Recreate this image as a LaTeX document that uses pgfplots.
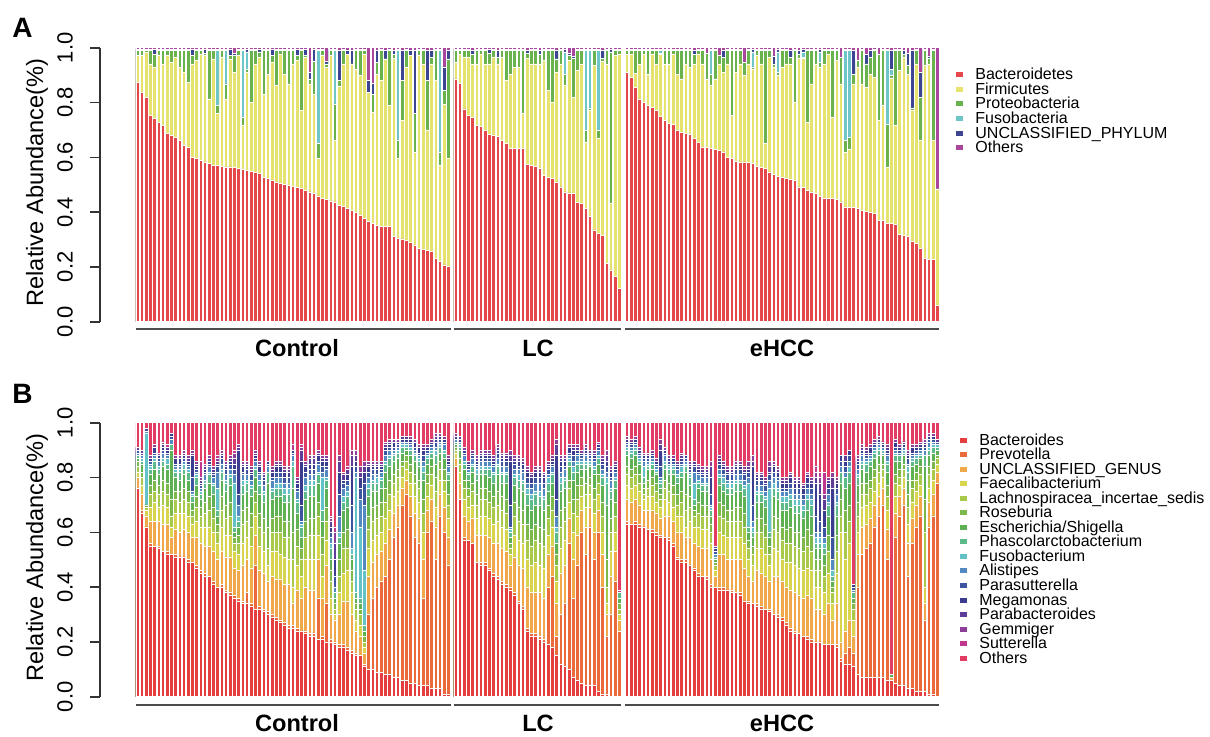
\documentclass[border=0pt]{standalone}
\usepackage{pgfplots}
\usepackage{pgfplotstable}
\usepackage{fontspec}
\setmainfont{Liberation Sans}
\pgfplotsset{compat=1.18}

% phylum palette
\definecolor{phBac}{RGB}{229,72,75}
\definecolor{phFir}{RGB}{229,226,110}
\definecolor{phPro}{RGB}{106,178,77}
\definecolor{phFus}{RGB}{110,198,200}
\definecolor{phUnc}{RGB}{61,69,146}
\definecolor{phOth}{RGB}{168,71,156}
% genus palette
\definecolor{gBac}{RGB}{229,62,62}
\definecolor{gPre}{RGB}{234,106,60}
\definecolor{gUnc}{RGB}{240,168,74}
\definecolor{gFae}{RGB}{216,212,78}
\definecolor{gLac}{RGB}{169,201,74}
\definecolor{gRos}{RGB}{125,185,74}
\definecolor{gEsc}{RGB}{93,177,82}
\definecolor{gPha}{RGB}{93,187,138}
\definecolor{gFus}{RGB}{98,194,200}
\definecolor{gAli}{RGB}{81,137,192}
\definecolor{gPsu}{RGB}{61,84,160}
\definecolor{gMeg}{RGB}{59,60,144}
\definecolor{gPba}{RGB}{94,61,152}
\definecolor{gGem}{RGB}{140,62,152}
\definecolor{gSut}{RGB}{192,56,142}
\definecolor{gOth}{RGB}{227,60,100}

% cumulative tops per sample (phylum level): Bacteroidetes, +Firmicutes, +Proteobacteria, +Fusobacteria, +UNCLASSIFIED, +Others
\pgfplotstableread{
x r Y G C B O
0 .874 .971 .990 .990 .995 1
1 .837 .971 .990 .990 .995 1
2 .819 .985 .990 .990 .995 1
3 .753 .941 .989 .989 .995 1
4 .741 .929 .977 .977 .995 1
5 .728 .971 .990 .990 .995 1
6 .716 .941 .990 .990 .995 1
7 .686 .971 .990 .990 .995 1
8 .680 .947 .990 .990 .995 1
9 .674 .965 .990 .990 .995 1
10 .662 .929 .990 .990 .995 1
11 .644 .910 .990 .990 .995 1
12 .637 .874 .990 .990 .995 1
13 .601 .941 .971 .971 .995 1
14 .595 .953 .990 .990 .995 1
15 .589 .977 .990 .990 .995 1
16 .583 .971 .980 .980 .995 1
17 .577 .813 .990 .990 .995 1
18 .571 .959 .990 .990 .995 1
19 .571 .759 .789 .989 .995 1
20 .568 .965 .990 .990 .995 1
21 .565 .813 .868 .989 .995 1
22 .565 .959 .971 .971 .995 1
23 .562 .910 .971 .971 .980 1
24 .559 .971 .990 .990 .995 1
25 .556 .716 .747 .989 .995 1
26 .553 .910 .920 .985 .995 1
27 .548 .801 .990 .990 .995 1
28 .545 .941 .990 .990 .995 1
29 .541 .965 .985 .985 .995 1
30 .528 .831 .990 .990 .995 1
31 .522 .904 .990 .990 .995 1
32 .516 .947 .971 .971 .995 1
33 .510 .862 .990 .990 .995 1
34 .506 .975 .990 .990 .995 1
35 .502 .904 .990 .990 .995 1
36 .498 .868 .990 .990 .995 1
37 .495 .941 .990 .990 .995 1
38 .490 .953 .971 .971 .995 1
39 .486 .771 .990 .990 .995 1
40 .480 .965 .971 .971 .995 1
41 .474 .868 .886 .886 .910 1
42 .468 .831 .950 .950 .995 1
43 .459 .595 .650 .989 .995 1
44 .450 .971 .990 .990 .995 1
45 .446 .929 .941 .941 .950 1
46 .441 .971 .990 .990 .995 1
47 .437 .662 .795 .989 .995 1
48 .425 .860 .880 .880 .990 1
49 .420 .941 .990 .990 .995 1
50 .413 .975 .975 .975 .990 1
51 .407 .941 .941 .941 .990 1
52 .398 .922 .990 .990 .995 1
53 .389 .898 .990 .990 .995 1
54 .378 .975 .990 .990 .995 1
55 .365 .837 .837 .837 .880 1
56 .360 .765 .831 .831 .870 1
57 .352 .904 .947 .947 .990 1
58 .347 .880 .990 .990 .995 1
59 .347 .959 .959 .959 .990 1
60 .347 .789 .990 .990 .995 1
61 .310 .960 .977 .977 .990 1
62 .306 .595 .662 .989 .995 1
63 .302 .735 .880 .880 .990 1
64 .298 .929 .990 .990 .995 1
65 .289 .971 .971 .971 .990 1
66 .280 .620 .759 .759 .990 1
67 .268 .971 .990 .990 .995 1
68 .265 .941 .990 .990 .995 1
69 .260 .700 .880 .880 .990 1
70 .256 .941 .965 .965 .990 1
71 .232 .880 .990 .990 .995 1
72 .220 .571 .620 .989 .995 1
73 .207 .795 .844 .844 .930 1
74 .201 .595 .959 .959 .990 1
75.8 .886 .947 .990 .990 .995 1
76.8 .870 .977 .990 .990 .995 1
77.8 .777 .965 .990 .990 .995 1
78.8 .753 .965 .990 .990 .995 1
79.8 .745 .941 .977 .977 .990 1
80.8 .716 .941 .990 .990 .995 1
81.8 .714 .975 .990 .990 .995 1
82.8 .698 .941 .990 .990 .995 1
83.8 .684 .941 .980 .980 .995 1
84.8 .680 .965 .990 .990 .995 1
85.8 .676 .941 .965 .965 .990 1
86.8 .662 .965 .990 .990 .995 1
87.8 .650 .880 .990 .990 .995 1
88.8 .632 .904 .990 .990 .995 1
89.8 .632 .929 .990 .990 .995 1
90.8 .632 .929 .990 .990 .995 1
91.8 .632 .759 .990 .990 .995 1
92.8 .574 .960 .980 .980 .990 1
93.8 .571 .941 .990 .990 .995 1
94.8 .568 .941 .990 .990 .995 1
95.8 .559 .941 .975 .975 .990 1
96.8 .535 .953 .990 .990 .995 1
97.8 .528 .844 .990 .990 .995 1
98.8 .522 .801 .990 .990 .995 1
99.8 .510 .910 .959 .959 .990 1
100.8 .492 .941 .990 .990 .995 1
101.8 .474 .862 .904 .985 .995 1
102.8 .470 .953 .971 .971 .980 1
103.8 .468 .820 .960 .960 .970 1
104.8 .434 .916 .990 .990 .995 1
105.8 .432 .941 .990 .990 .995 1
106.8 .414 .656 .698 .989 .995 1
107.8 .383 .770 .780 .989 .995 1
108.8 .335 .935 .990 .990 .995 1
109.8 .322 .668 .698 .989 .995 1
110.8 .316 .950 .960 .960 .990 1
111.8 .213 .940 .990 .990 .995 1
112.8 .189 .432 .985 .985 .995 1
113.8 .165 .971 .990 .990 .995 1
114.8 .123 .977 .990 .990 .995 1
116.6 .910 .975 .990 .990 .995 1
117.6 .892 .977 .990 .990 .995 1
118.6 .856 .907 .990 .990 .995 1
119.6 .813 .941 .990 .990 .995 1
120.6 .801 .975 .990 .990 .995 1
121.6 .789 .904 .990 .990 .995 1
122.6 .781 .977 .990 .990 .995 1
123.6 .771 .941 .990 .990 .995 1
124.6 .749 .975 .980 .990 .995 1
125.6 .735 .941 .990 .990 .995 1
126.6 .725 .941 .990 .990 .995 1
127.6 .720 .977 .990 .990 .995 1
128.6 .698 .904 .990 .990 .995 1
129.6 .692 .886 .990 .990 .995 1
130.6 .686 .941 .990 .990 .995 1
131.6 .684 .929 .990 .990 .995 1
132.6 .668 .941 .977 .977 .990 1
133.6 .653 .975 .990 .990 .995 1
134.6 .638 .941 .990 .990 .995 1
135.6 .635 .886 .980 .980 .980 1
136.6 .632 .862 .904 .990 .995 1
137.6 .630 .886 .990 .990 .995 1
138.6 .626 .941 .971 .971 .971 1
139.6 .620 .910 .965 .965 .990 1
140.6 .601 .941 .990 .990 .995 1
141.6 .595 .753 .990 .990 .995 1
142.6 .585 .910 .990 .990 .995 1
143.6 .583 .941 .990 .990 .995 1
144.6 .583 .898 .947 .947 .947 1
145.6 .582 .941 .990 .990 .995 1
146.6 .577 .920 .930 .985 .995 1
147.6 .568 .971 .990 .990 .995 1
148.6 .562 .941 .990 .990 .995 1
149.6 .559 .650 .990 .990 .995 1
150.6 .547 .965 .990 .990 .995 1
151.6 .538 .930 .940 .940 .970 1
152.6 .531 .900 .910 .985 .995 1
153.6 .528 .929 .990 .990 .995 1
154.6 .522 .941 .990 .990 .995 1
155.6 .519 .941 .965 .965 .990 1
156.6 .516 .801 .990 .990 .995 1
157.6 .492 .960 .975 .975 .990 1
158.6 .489 .960 .965 .985 .995 1
159.6 .480 .728 .990 .990 .995 1
160.6 .474 .868 .990 .990 .995 1
161.6 .468 .941 .990 .990 .995 1
162.6 .456 .930 .945 .985 .995 1
163.6 .452 .941 .990 .990 .995 1
164.6 .450 .977 .990 .990 .995 1
165.6 .450 .747 .990 .990 .995 1
166.6 .446 .953 .990 .990 .995 1
167.6 .437 .868 .965 .965 .965 1
168.6 .419 .620 .662 .989 .995 1
169.6 .417 .630 .674 .989 .995 1
170.6 .416 .868 .904 .904 .990 1
171.6 .414 .929 .953 .953 .953 1
172.6 .407 .868 .990 .990 .995 1
173.6 .404 .856 .941 .941 .977 1
174.6 .401 .904 .965 .965 .990 1
175.6 .395 .892 .990 .990 .995 1
176.6 .371 .735 .977 .977 .977 1
177.6 .369 .789 .990 .990 .995 1
178.6 .359 .565 .720 .989 .995 1
179.6 .359 .890 .900 .920 .990 1
180.6 .355 .716 .990 .990 .995 1
181.6 .320 .916 .990 .990 .995 1
182.6 .316 .965 .977 .977 .990 1
183.6 .310 .904 .935 .935 .980 1
184.6 .292 .770 .780 .780 .990 1
185.6 .286 .941 .990 .990 .995 1
186.6 .268 .662 .820 .820 .910 1
187.6 .232 .935 .990 .990 .995 1
188.6 .226 .941 .960 .960 .970 1
189.6 .226 .662 .990 .990 .995 1
190.6 .059 .485 .485 .485 .485 1
}\phylum

% cumulative tops per sample (genus level), bottom to top
\pgfplotstableread{
x Bac Pre Unc Fae Lac Ros Esc Pha Fus Ali Psu Meg Pba Gem Sut Oth
0 .76 .76 .80 .82 .84 .86 .87 .88 .88 .89 .90 .90 .91 .91 .91 1
1 .67 .68 .74 .77 .80 .82 .85 .86 .87 .88 .88 .89 .90 .90 .90 1
2 .62 .62 .66 .68 .69 .70 .70 .70 .96 .97 .97 .97 .98 .98 .98 1
3 .55 .56 .64 .69 .74 .77 .81 .83 .84 .85 .86 .87 .87 .88 .88 1
4 .55 .55 .64 .71 .75 .79 .83 .86 .87 .88 .89 .91 .91 .92 .92 1
5 .54 .55 .64 .69 .74 .77 .81 .83 .84 .86 .87 .88 .88 .89 .89 1
6 .53 .53 .63 .70 .75 .79 .84 .86 .87 .89 .90 .91 .92 .93 .93 1
7 .52 .53 .63 .69 .74 .78 .83 .85 .87 .88 .89 .90 .91 .91 .92 1
8 .52 .52 .58 .62 .66 .72 .90 .92 .92 .94 .95 .96 .96 .96 .96 1
9 .51 .52 .61 .67 .72 .75 .80 .82 .83 .84 .85 .87 .87 .88 .88 1
10 .51 .51 .60 .67 .71 .75 .79 .82 .83 .84 .85 .87 .87 .88 .88 1
11 .51 .51 .61 .67 .72 .76 .81 .83 .85 .86 .87 .88 .89 .90 .90 1
12 .49 .50 .60 .66 .71 .75 .79 .82 .83 .84 .85 .86 .87 .88 .88 1
13 .49 .49 .58 .63 .66 .68 .71 .73 .74 .75 .80 .88 .89 .90 .90 1
14 .47 .48 .58 .64 .69 .73 .77 .80 .81 .82 .83 .84 .85 .86 .86 1
15 .45 .46 .56 .62 .66 .69 .72 .74 .75 .76 .77 .78 .79 .80 .86 1
16 .44 .45 .55 .62 .67 .71 .76 .78 .79 .81 .82 .83 .84 .85 .85 1
17 .44 .44 .55 .62 .68 .73 .78 .81 .82 .84 .85 .86 .87 .88 .88 1
18 .41 .42 .53 .60 .65 .69 .74 .77 .78 .80 .81 .82 .83 .84 .84 1
19 .40 .40 .50 .56 .60 .63 .66 .68 .76 .82 .84 .85 .86 .87 .88 1
20 .40 .41 .53 .62 .68 .73 .79 .82 .83 .85 .87 .88 .89 .90 .90 1
21 .38 .39 .51 .59 .65 .70 .75 .78 .79 .81 .83 .84 .85 .86 .86 1
22 .37 .38 .51 .59 .66 .71 .77 .80 .81 .83 .85 .86 .87 .88 .88 1
23 .36 .37 .47 .53 .56 .58 .60 .62 .78 .81 .83 .85 .87 .89 .90 1
24 .35 .36 .46 .52 .56 .59 .62 .64 .66 .70 .74 .90 .91 .92 .92 1
25 .34 .35 .48 .56 .63 .68 .74 .77 .79 .81 .82 .84 .85 .86 .86 1
26 .34 .38 .50 .58 .64 .69 .75 .78 .79 .81 .83 .84 .85 .86 .86 1
27 .33 .34 .47 .55 .62 .67 .73 .76 .77 .79 .81 .82 .83 .84 .84 1
28 .32 .48 .59 .66 .71 .75 .80 .83 .84 .86 .87 .88 .89 .90 .90 1
29 .32 .33 .46 .55 .62 .67 .74 .77 .79 .81 .82 .84 .85 .86 .86 1
30 .31 .32 .45 .53 .60 .65 .71 .74 .75 .77 .79 .80 .81 .82 .82 1
31 .30 .31 .42 .48 .54 .62 .78 .82 .82 .84 .85 .86 .86 .86 .86 1
32 .29 .30 .44 .53 .60 .65 .72 .75 .76 .79 .80 .82 .83 .84 .84 1
33 .28 .29 .43 .53 .60 .66 .73 .76 .78 .80 .82 .84 .85 .86 .86 1
34 .27 .28 .43 .52 .60 .66 .73 .76 .78 .80 .82 .84 .85 .86 .86 1
35 .26 .27 .41 .51 .58 .64 .71 .74 .76 .78 .80 .82 .83 .84 .84 1
36 .25 .26 .41 .50 .58 .64 .71 .74 .76 .78 .80 .82 .83 .84 .84 1
37 .25 .26 .34 .40 .50 .60 .76 .84 .86 .88 .89 .90 .90 .90 .92 1
38 .24 .25 .39 .48 .55 .61 .67 .71 .72 .75 .76 .78 .79 .80 .80 1
39 .24 .24 .36 .44 .50 .54 .58 .62 .63 .64 .70 .86 .90 .91 .92 1
40 .23 .24 .40 .50 .58 .64 .72 .75 .77 .80 .82 .84 .85 .86 .86 1
41 .22 .23 .39 .50 .59 .65 .73 .77 .79 .81 .83 .85 .87 .88 .88 1
42 .22 .23 .39 .50 .59 .65 .73 .77 .79 .81 .83 .85 .87 .88 .88 1
43 .21 .36 .50 .59 .66 .71 .78 .81 .82 .85 .86 .88 .89 .90 .90 1
44 .21 .22 .36 .44 .52 .58 .64 .68 .80 .82 .84 .86 .87 .88 .88 1
45 .20 .34 .48 .57 .64 .69 .76 .79 .80 .83 .84 .86 .87 .88 .88 1
46 .20 .21 .30 .36 .42 .46 .50 .54 .56 .58 .60 .62 .64 .65 .66 1
47 .19 .20 .28 .30 .32 .34 .36 .38 .38 .40 .44 .50 .56 .60 .62 1
48 .18 .19 .30 .38 .44 .50 .56 .58 .60 .66 .74 .82 .86 .88 .88 1
49 .18 .19 .35 .45 .54 .60 .68 .71 .73 .76 .78 .79 .81 .81 .82 1
50 .17 .18 .35 .46 .54 .61 .69 .73 .75 .77 .79 .81 .83 .83 .84 1
51 .16 .17 .30 .38 .42 .46 .50 .52 .54 .60 .70 .84 .88 .90 .90 1
52 .15 .16 .24 .28 .32 .34 .36 .38 .80 .82 .84 .86 .88 .90 .90 1
53 .15 .15 .22 .26 .30 .32 .34 .36 .62 .72 .76 .80 .82 .84 .84 1
54 .11 .12 .16 .18 .20 .22 .24 .26 .46 .70 .78 .82 .84 .86 .86 1
55 .10 .30 .44 .54 .61 .66 .73 .76 .78 .80 .82 .84 .85 .86 .86 1
56 .10 .36 .49 .57 .64 .69 .75 .78 .79 .81 .83 .84 .85 .86 .86 1
57 .09 .40 .52 .59 .65 .70 .75 .78 .80 .81 .83 .84 .85 .86 .86 1
58 .09 .42 .53 .60 .66 .71 .76 .79 .80 .82 .83 .84 .85 .86 .86 1
59 .08 .44 .56 .65 .71 .76 .82 .85 .86 .88 .90 .91 .92 .93 .93 1
60 .08 .50 .61 .68 .74 .79 .84 .87 .88 .90 .91 .92 .93 .94 .94 1
61 .07 .58 .67 .73 .78 .81 .86 .88 .89 .90 .91 .93 .93 .94 .94 1
62 .07 .62 .70 .75 .80 .83 .87 .89 .90 .91 .92 .93 .93 .94 .94 1
63 .06 .70 .76 .80 .84 .86 .89 .91 .92 .93 .93 .94 .95 .95 .95 1
64 .06 .74 .79 .83 .86 .88 .90 .91 .92 .93 .93 .94 .95 .95 .95 1
65 .05 .66 .73 .78 .82 .85 .88 .90 .91 .92 .93 .94 .94 .95 .95 1
66 .05 .58 .67 .73 .78 .81 .86 .88 .89 .90 .91 .93 .93 .94 .94 1
67 .04 .56 .65 .71 .76 .79 .84 .86 .87 .88 .89 .91 .91 .92 .92 1
68 .04 .36 .50 .60 .67 .72 .79 .82 .84 .86 .88 .90 .91 .92 .92 1
69 .04 .60 .68 .73 .78 .81 .85 .87 .88 .89 .90 .91 .91 .92 .92 1
70 .03 .64 .72 .77 .81 .84 .87 .89 .90 .91 .92 .93 .93 .94 .94 1
71 .03 .50 .62 .69 .75 .80 .85 .88 .90 .91 .93 .94 .95 .96 .96 1
72 .03 .66 .74 .79 .83 .86 .89 .91 .92 .93 .94 .95 .95 .96 .96 1
73 .01 .60 .69 .75 .79 .83 .87 .89 .90 .92 .93 .94 .94 .95 .95 1
74 .01 .48 .58 .65 .70 .74 .79 .81 .82 .84 .85 .86 .87 .88 .88 1
75.8 .84 .84 .87 .89 .90 .91 .92 .93 .93 .94 .94 .95 .95 .96 .96 1
76.8 .72 .72 .78 .82 .85 .87 .90 .91 .92 .93 .93 .94 .95 .95 .95 1
77.8 .57 .58 .66 .72 .76 .79 .83 .85 .86 .88 .89 .90 .90 .91 .91 1
78.8 .57 .57 .64 .69 .73 .76 .79 .81 .82 .83 .84 .85 .86 .86 .86 1
79.8 .56 .56 .65 .70 .75 .78 .82 .84 .85 .87 .88 .89 .89 .90 .90 1
80.8 .49 .49 .59 .65 .70 .74 .79 .81 .83 .84 .85 .86 .87 .88 .88 1
81.8 .48 .49 .59 .66 .72 .76 .81 .83 .84 .86 .87 .88 .89 .90 .90 1
82.8 .48 .49 .59 .66 .72 .76 .81 .83 .84 .86 .87 .88 .89 .90 .90 1
83.8 .46 .47 .58 .65 .71 .75 .80 .83 .84 .86 .87 .88 .89 .90 .90 1
84.8 .44 .45 .56 .63 .69 .73 .78 .81 .82 .84 .85 .86 .87 .88 .88 1
85.8 .43 .44 .56 .64 .70 .75 .81 .84 .85 .87 .89 .90 .91 .92 .92 1
86.8 .41 .42 .54 .62 .68 .73 .78 .81 .82 .84 .86 .87 .88 .89 .89 1
87.8 .40 .41 .53 .61 .67 .72 .78 .81 .82 .84 .86 .87 .88 .89 .89 1
88.8 .39 .40 .48 .52 .54 .56 .58 .60 .61 .62 .70 .86 .88 .90 .90 1
89.8 .37 .38 .51 .59 .66 .71 .77 .80 .81 .83 .85 .86 .87 .88 .88 1
90.8 .34 .35 .48 .57 .64 .69 .76 .79 .81 .83 .84 .86 .87 .88 .88 1
91.8 .32 .33 .47 .56 .63 .68 .75 .78 .79 .82 .83 .85 .86 .87 .87 1
92.8 .24 .25 .40 .50 .57 .63 .70 .74 .76 .78 .80 .82 .83 .84 .84 1
93.8 .22 .23 .38 .48 .55 .61 .68 .72 .74 .76 .78 .80 .81 .82 .82 1
94.8 .22 .23 .38 .49 .57 .63 .70 .74 .75 .78 .80 .82 .83 .84 .84 1
95.8 .21 .22 .38 .48 .56 .62 .70 .73 .75 .78 .80 .82 .83 .84 .84 1
96.8 .20 .21 .36 .47 .55 .61 .68 .72 .73 .76 .78 .80 .81 .82 .82 1
97.8 .19 .40 .52 .59 .65 .70 .75 .78 .80 .81 .83 .84 .85 .86 .86 1
98.8 .18 .44 .55 .62 .68 .73 .78 .81 .82 .84 .85 .86 .87 .88 .88 1
99.8 .15 .22 .34 .42 .48 .52 .56 .60 .62 .66 .72 .88 .92 .94 .94 1
100.8 .12 .30 .45 .54 .62 .68 .75 .78 .80 .82 .84 .86 .87 .88 .88 1
101.8 .11 .34 .48 .57 .64 .69 .76 .79 .80 .83 .84 .86 .87 .88 .88 1
102.8 .10 .56 .65 .71 .76 .79 .84 .86 .87 .88 .89 .91 .91 .92 .92 1
103.8 .07 .36 .50 .60 .67 .72 .79 .82 .84 .86 .88 .90 .91 .92 .92 1
104.8 .06 .48 .59 .66 .72 .77 .82 .85 .86 .88 .89 .90 .91 .92 .92 1
105.8 .05 .60 .68 .73 .77 .80 .83 .85 .86 .87 .88 .89 .89 .90 .90 1
106.8 .04 .52 .62 .69 .74 .78 .83 .85 .86 .88 .89 .90 .91 .92 .92 1
107.8 .04 .62 .69 .74 .77 .80 .84 .85 .86 .87 .88 .89 .89 .90 .90 1
108.8 .04 .50 .60 .67 .72 .76 .81 .83 .84 .86 .87 .88 .89 .90 .90 1
109.8 .02 .60 .68 .74 .78 .81 .85 .87 .88 .90 .91 .92 .92 .93 .93 1
110.8 .01 .40 .52 .60 .66 .71 .77 .80 .81 .83 .85 .86 .87 .88 .88 1
111.8 .01 .22 .30 .34 .40 .50 .70 .78 .80 .82 .84 .86 .88 .90 .90 1
112.8 .00 .30 .44 .53 .60 .65 .72 .75 .76 .79 .80 .82 .83 .84 .84 1
113.8 .00 .42 .53 .60 .66 .71 .76 .79 .80 .82 .83 .84 .85 .86 .86 1
114.8 .00 .24 .28 .30 .32 .34 .36 .38 .38 .38 .38 .38 .38 .38 .39 1
116.6 .63 .64 .72 .77 .81 .84 .88 .90 .91 .92 .93 .94 .94 .95 .95 1
117.6 .63 .63 .71 .76 .80 .83 .87 .89 .90 .91 .92 .93 .93 .94 .94 1
118.6 .63 .64 .72 .77 .81 .84 .88 .90 .91 .92 .93 .94 .94 .95 .95 1
119.6 .62 .63 .70 .75 .78 .81 .85 .86 .87 .88 .89 .90 .90 .91 .91 1
120.6 .62 .62 .68 .72 .74 .76 .78 .80 .84 .86 .87 .88 .88 .89 .89 1
121.6 .61 .61 .68 .73 .76 .79 .83 .84 .85 .86 .87 .88 .88 .89 .89 1
122.6 .60 .61 .68 .73 .77 .80 .83 .85 .86 .87 .88 .89 .89 .90 .90 1
123.6 .59 .60 .67 .71 .75 .78 .81 .82 .83 .84 .85 .86 .86 .87 .87 1
124.6 .58 .59 .65 .69 .72 .74 .76 .78 .79 .80 .84 .90 .92 .94 .94 1
125.6 .58 .58 .66 .72 .76 .79 .83 .85 .86 .88 .89 .90 .90 .91 .91 1
126.6 .57 .58 .66 .71 .75 .78 .81 .83 .84 .85 .86 .87 .87 .88 .88 1
127.6 .55 .56 .64 .69 .74 .77 .81 .83 .84 .85 .86 .87 .87 .88 .88 1
128.6 .50 .51 .60 .66 .70 .74 .78 .80 .81 .83 .84 .85 .85 .86 .86 1
129.6 .49 .50 .60 .66 .71 .75 .80 .82 .84 .85 .86 .87 .88 .89 .89 1
130.6 .49 .50 .58 .62 .68 .74 .82 .84 .85 .86 .87 .88 .88 .88 .88 1
131.6 .48 .48 .58 .64 .69 .73 .77 .80 .81 .82 .83 .84 .85 .86 .86 1
132.6 .46 .47 .56 .62 .66 .68 .70 .72 .78 .82 .84 .85 .86 .86 .86 1
133.6 .44 .45 .55 .62 .67 .71 .76 .78 .79 .81 .82 .83 .84 .85 .85 1
134.6 .44 .44 .54 .61 .66 .70 .75 .77 .78 .80 .81 .82 .83 .84 .84 1
135.6 .43 .44 .54 .61 .66 .70 .75 .77 .78 .80 .81 .82 .83 .84 .84 1
136.6 .40 .41 .50 .56 .60 .63 .66 .68 .69 .70 .74 .80 .84 .86 .86 1
137.6 .40 .40 .44 .46 .48 .49 .50 .51 .51 .52 .53 .54 .55 .55 .55 1
138.6 .39 .40 .52 .60 .66 .71 .77 .80 .81 .83 .85 .86 .87 .88 .88 1
139.6 .39 .40 .52 .59 .65 .70 .75 .78 .80 .81 .83 .84 .85 .86 .86 1
140.6 .39 .39 .50 .58 .64 .68 .74 .76 .78 .79 .81 .82 .83 .84 .84 1
141.6 .38 .39 .50 .58 .64 .68 .74 .76 .78 .79 .81 .82 .83 .84 .84 1
142.6 .38 .38 .50 .58 .64 .69 .75 .78 .79 .81 .83 .84 .85 .86 .86 1
143.6 .37 .38 .50 .58 .64 .69 .75 .78 .79 .81 .83 .84 .85 .86 .86 1
144.6 .35 .35 .47 .56 .62 .67 .73 .76 .77 .79 .81 .82 .83 .84 .84 1
145.6 .34 .35 .44 .50 .54 .57 .60 .62 .78 .80 .82 .83 .84 .86 .86 1
146.6 .34 .34 .42 .48 .52 .55 .58 .60 .62 .64 .70 .84 .86 .88 .88 1
147.6 .33 .34 .46 .54 .60 .65 .71 .74 .75 .77 .79 .80 .81 .82 .82 1
148.6 .32 .33 .45 .54 .60 .65 .71 .74 .75 .77 .79 .80 .81 .82 .82 1
149.6 .32 .32 .44 .52 .58 .63 .69 .72 .73 .75 .77 .78 .79 .80 .80 1
150.6 .31 .32 .42 .48 .52 .55 .58 .60 .76 .79 .81 .82 .84 .86 .86 1
151.6 .30 .30 .44 .54 .61 .66 .73 .76 .78 .80 .82 .84 .85 .86 .86 1
152.6 .29 .30 .44 .53 .60 .65 .72 .75 .76 .79 .80 .82 .83 .84 .84 1
153.6 .28 .29 .42 .50 .57 .62 .68 .71 .73 .75 .76 .78 .79 .80 .80 1
154.6 .26 .27 .40 .49 .56 .61 .68 .71 .73 .75 .76 .78 .79 .80 .80 1
155.6 .24 .25 .39 .49 .56 .62 .69 .72 .74 .76 .78 .80 .81 .82 .82 1
156.6 .23 .24 .38 .48 .55 .60 .67 .70 .72 .74 .76 .78 .79 .80 .80 1
157.6 .23 .23 .37 .47 .54 .60 .67 .70 .72 .74 .76 .78 .79 .80 .80 1
158.6 .22 .22 .36 .46 .53 .58 .65 .68 .70 .72 .74 .76 .77 .78 .78 1
159.6 .21 .22 .37 .47 .55 .61 .68 .72 .74 .76 .78 .80 .81 .82 .82 1
160.6 .20 .21 .36 .46 .53 .59 .66 .70 .72 .74 .76 .78 .79 .80 .80 1
161.6 .20 .20 .32 .40 .46 .50 .54 .56 .58 .60 .66 .78 .80 .82 .84 1
162.6 .20 .20 .32 .40 .46 .50 .54 .56 .58 .60 .64 .74 .78 .80 .82 1
163.6 .19 .19 .30 .38 .44 .48 .52 .54 .56 .58 .62 .68 .72 .74 .82 1
164.6 .19 .19 .34 .45 .53 .59 .66 .70 .71 .74 .76 .78 .79 .80 .80 1
165.6 .19 .19 .28 .34 .38 .40 .42 .44 .46 .50 .58 .76 .80 .82 .82 1
166.6 .18 .19 .34 .45 .53 .59 .66 .70 .71 .74 .76 .78 .79 .80 .80 1
167.6 .13 .14 .20 .60 .66 .72 .78 .82 .82 .84 .86 .88 .88 .88 .88 1
168.6 .12 .16 .24 .50 .60 .68 .76 .80 .80 .82 .84 .86 .88 .88 .88 1
169.6 .12 .18 .28 .56 .64 .70 .78 .82 .84 .86 .88 .90 .90 .90 .90 1
170.6 .11 .16 .22 .28 .32 .34 .36 .38 .38 .39 .40 .41 .41 .41 .41 1
171.6 .08 .40 .52 .60 .66 .71 .77 .80 .81 .83 .85 .86 .87 .88 .88 1
172.6 .07 .52 .62 .69 .74 .78 .83 .85 .86 .88 .89 .90 .91 .92 .92 1
173.6 .07 .54 .63 .70 .74 .78 .82 .85 .86 .87 .88 .89 .90 .91 .91 1
174.6 .07 .56 .65 .71 .76 .79 .84 .86 .87 .88 .89 .91 .91 .92 .92 1
175.6 .07 .62 .70 .75 .80 .83 .87 .89 .90 .91 .92 .93 .93 .94 .94 1
176.6 .07 .66 .73 .78 .82 .85 .88 .90 .91 .92 .93 .94 .94 .95 .95 1
177.6 .07 .70 .76 .80 .83 .85 .88 .89 .90 .91 .91 .92 .93 .93 .93 1
178.6 .06 .50 .61 .68 .73 .77 .82 .85 .86 .88 .89 .90 .91 .92 .92 1
179.6 .06 .06 .07 .07 .07 .07 .08 .08 .08 .08 .08 .08 .08 .08 .08 1
180.6 .05 .58 .67 .73 .78 .81 .86 .88 .89 .90 .91 .93 .93 .94 .94 1
181.6 .04 .66 .73 .77 .80 .83 .86 .88 .88 .89 .90 .91 .91 .92 .92 1
182.6 .04 .70 .76 .80 .83 .85 .88 .89 .90 .91 .91 .92 .93 .93 .93 1
183.6 .03 .44 .56 .63 .69 .74 .79 .82 .84 .85 .87 .88 .89 .90 .90 1
184.6 .03 .56 .65 .71 .76 .79 .84 .86 .87 .88 .89 .91 .91 .92 .92 1
185.6 .02 .62 .70 .75 .79 .82 .85 .87 .88 .89 .90 .91 .91 .92 .92 1
186.6 .02 .66 .73 .77 .81 .84 .87 .88 .89 .90 .91 .92 .92 .93 .93 1
187.6 .02 .28 .34 .40 .60 .72 .84 .88 .88 .90 .91 .92 .93 .94 .94 1
188.6 .01 .62 .71 .76 .81 .84 .88 .90 .91 .93 .94 .95 .95 .96 .96 1
189.6 .01 .66 .74 .79 .83 .86 .89 .91 .92 .93 .94 .95 .95 .96 .96 1
190.6 .00 .78 .82 .85 .87 .88 .90 .91 .92 .92 .93 .93 .94 .94 .94 1
}\genus

\pgfplotsset{
  stk/.style={ybar, bar width=0.86, bar shift=0pt, draw=white, line width=0.3pt},
  panel/.style={
    anchor=south west, scale only axis,
    width=423.7pt, height=137pt,
    xmin=-9, xmax=193, ymin=0, ymax=1,
    axis x line=none, axis y line*=left,
    xtick=\empty, ytick={0,0.2,0.4,0.6,0.8,1}, yticklabels={},
    tick align=outside, major tick length=5pt,
    y axis line style={line width=0.8pt, black!80},
    ytick style={line width=0.8pt, black!80},
    clip=false,
  },
}

\begin{document}
\begin{tikzpicture}
\useasboundingbox (0,0) rectangle (605pt,-368pt);

% phylum level
\begin{axis}[panel, at={(50pt,-160.85pt)}]
\addplot[stk, fill=phOth] table[x=x, y=O] {\phylum};
\addplot[stk, fill=phUnc] table[x=x, y=B] {\phylum};
\addplot[stk, fill=phFus] table[x=x, y=C] {\phylum};
\addplot[stk, fill=phPro] table[x=x, y=G] {\phylum};
\addplot[stk, fill=phFir] table[x=x, y=Y] {\phylum};
\addplot[stk, fill=phBac] table[x=x, y=r] {\phylum};
\end{axis}

% genus level
\begin{axis}[panel, at={(50pt,-348.35pt)}]
\addplot[stk, fill=gOth] table[x=x, y=Oth] {\genus};
\addplot[stk, fill=gSut] table[x=x, y=Sut] {\genus};
\addplot[stk, fill=gGem] table[x=x, y=Gem] {\genus};
\addplot[stk, fill=gPba] table[x=x, y=Pba] {\genus};
\addplot[stk, fill=gMeg] table[x=x, y=Meg] {\genus};
\addplot[stk, fill=gPsu] table[x=x, y=Psu] {\genus};
\addplot[stk, fill=gAli] table[x=x, y=Ali] {\genus};
\addplot[stk, fill=gFus] table[x=x, y=Fus] {\genus};
\addplot[stk, fill=gPha] table[x=x, y=Pha] {\genus};
\addplot[stk, fill=gEsc] table[x=x, y=Esc] {\genus};
\addplot[stk, fill=gRos] table[x=x, y=Ros] {\genus};
\addplot[stk, fill=gLac] table[x=x, y=Lac] {\genus};
\addplot[stk, fill=gFae] table[x=x, y=Fae] {\genus};
\addplot[stk, fill=gUnc] table[x=x, y=Unc] {\genus};
\addplot[stk, fill=gPre] table[x=x, y=Pre] {\genus};
\addplot[stk, fill=gBac] table[x=x, y=Bac] {\genus};
\end{axis}

% labels, group bars and legends (pixel grid, y downwards)
\begin{scope}[x=0.5pt, y=-0.5pt]
  \node[anchor=base west, inner sep=0pt, font=\fontsize{14}{16}\selectfont\bfseries] at (12,37) {A};
  \node[anchor=base west, inner sep=0pt, font=\fontsize{14}{16}\selectfont\bfseries] at (12,403) {B};

  \foreach \base in {321.7, 696.7} {
    \foreach \v/\t in {0/0.0, 0.2/0.2, 0.4/0.4, 0.6/0.6, 0.8/0.8, 1/1.0}
      \node[rotate=90, anchor=base, inner sep=0pt, font=\fontsize{11}{13}\selectfont]
        at (72.7, {\base-274*\v}) {\t};
  }
  \node[rotate=90, anchor=base, inner sep=0pt, font=\fontsize{11.8}{14}\selectfont]
    at (43,182.5) {Relative Abundance(\%)};
  \node[rotate=90, anchor=base, inner sep=0pt, font=\fontsize{11.8}{14}\selectfont]
    at (43,557.5) {Relative Abundance(\%)};

  \foreach \ly/\tb in {329.3/356, 704.5/731} {
    \draw[black!70, line width=1pt] (135.5,\ly) -- (450.5,\ly);
    \draw[black!70, line width=1pt] (453.5,\ly) -- (620.5,\ly);
    \draw[black!70, line width=1pt] (624.5,\ly) -- (939,\ly);
    \node[anchor=base, inner sep=0pt, font=\fontsize{11.8}{14}\selectfont\bfseries] at (297,\tb) {Control};
    \node[anchor=base, inner sep=0pt, font=\fontsize{11.8}{14}\selectfont\bfseries] at (538,\tb) {LC};
    \node[anchor=base, inner sep=0pt, font=\fontsize{11.8}{14}\selectfont\bfseries] at (782,\tb) {eHCC};
  }

  \foreach \c/\t [count=\i from 0] in {phBac/Bacteroidetes, phFir/Firmicutes, phPro/Proteobacteria,
      phFus/Fusobacteria, phUnc/UNCLASSIFIED\_PHYLUM, phOth/Others} {
    \fill[\c] (956,{74.3+14.7*\i-2.5}) rectangle (962.5,{74.3+14.7*\i+2.5});
    \node[anchor=base west, inner sep=0pt, font=\fontsize{8}{9}\selectfont] at (975,{74.3+14.7*\i+5}) {\t};
  }
  \foreach \c/\t [count=\i from 0] in {gBac/Bacteroides, gPre/Prevotella, gUnc/UNCLASSIFIED\_GENUS,
      gFae/Faecalibacterium, gLac/Lachnospiracea\_incertae\_sedis, gRos/Roseburia,
      gEsc/{Escherichia/Shigella}, gPha/Phascolarctobacterium, gFus/Fusobacterium,
      gAli/Alistipes, gPsu/Parasutterella, gMeg/Megamonas, gPba/Parabacteroides,
      gGem/Gemmiger, gSut/Sutterella, gOth/Others} {
    \fill[\c] (960,{440+14.55*\i-2.5}) rectangle (966.5,{440+14.55*\i+2.5});
    \node[anchor=base west, inner sep=0pt, font=\fontsize{8}{9}\selectfont] at (979,{440+14.55*\i+5}) {\t};
  }
\end{scope}
\end{tikzpicture}
\end{document}
